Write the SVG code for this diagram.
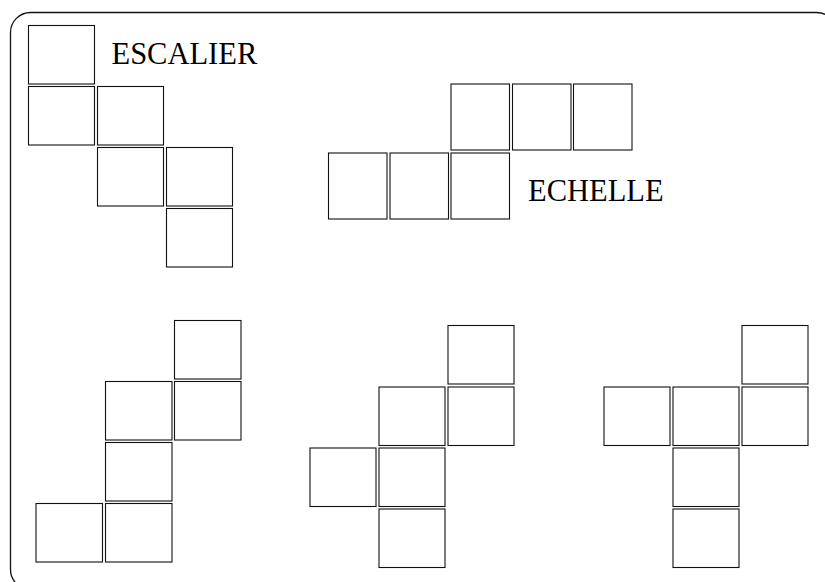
<svg xmlns="http://www.w3.org/2000/svg" width="825" height="582" viewBox="0 0 825 582">
<style>
.sq{fill:#fff;stroke:#111;stroke-width:1.1}
.frame{fill:none;stroke:#111;stroke-width:1.3}
.lbl{font-family:"Liberation Serif","Times New Roman",serif;font-size:30.5px;fill:#000}
</style>
<rect width="825" height="582" fill="#fff"/>
<rect class="frame" x="10.5" y="12.5" width="826" height="577" rx="20" ry="20"/>
<g id="escalier">
<rect class="sq" x="28.5" y="25.5" width="66" height="58.5"/>
<rect class="sq" x="28.5" y="86.5" width="66" height="58.5"/>
<rect class="sq" x="97.5" y="86.5" width="66" height="58.5"/>
<rect class="sq" x="97.5" y="147.5" width="66" height="58.5"/>
<rect class="sq" x="166.5" y="147.5" width="66" height="58.5"/>
<rect class="sq" x="166.5" y="208.5" width="66" height="58.5"/>
<text class="lbl" x="111.5" y="64">ESCALIER</text>
</g>
<g id="echelle">
<rect class="sq" x="451" y="84" width="58.5" height="66"/>
<rect class="sq" x="512.5" y="84" width="58.5" height="66"/>
<rect class="sq" x="573.5" y="84" width="58.5" height="66"/>
<rect class="sq" x="328.5" y="153" width="58.5" height="66"/>
<rect class="sq" x="390" y="153" width="58.5" height="66"/>
<rect class="sq" x="451" y="153" width="58.5" height="66"/>
<text class="lbl" x="528" y="201">ECHELLE</text>
</g>
<g id="patron1">
<rect class="sq" x="174.5" y="320.5" width="66.5" height="58.5"/>
<rect class="sq" x="105.5" y="381.5" width="66.5" height="58.5"/>
<rect class="sq" x="174.5" y="381.5" width="66.5" height="58.5"/>
<rect class="sq" x="105.5" y="442.5" width="66.5" height="58.5"/>
<rect class="sq" x="36" y="503.5" width="66.5" height="58.5"/>
<rect class="sq" x="105.5" y="503.5" width="66.5" height="58.5"/>
</g>
<g id="patron2">
<rect class="sq" x="448" y="325.5" width="66" height="58.5"/>
<rect class="sq" x="379" y="387" width="66" height="58.5"/>
<rect class="sq" x="448" y="387" width="66" height="58.5"/>
<rect class="sq" x="310" y="448" width="66" height="58.5"/>
<rect class="sq" x="379" y="448" width="66" height="58.5"/>
<rect class="sq" x="379" y="509" width="66" height="58.5"/>
</g>
<g id="patron3">
<rect class="sq" x="742" y="325.5" width="66" height="58.5"/>
<rect class="sq" x="604" y="387" width="66" height="58.5"/>
<rect class="sq" x="673" y="387" width="66" height="58.5"/>
<rect class="sq" x="742" y="387" width="66" height="58.5"/>
<rect class="sq" x="673" y="448" width="66" height="58.5"/>
<rect class="sq" x="673" y="509" width="66" height="58.5"/>
</g>
<g id="connectors"/>
</svg>
